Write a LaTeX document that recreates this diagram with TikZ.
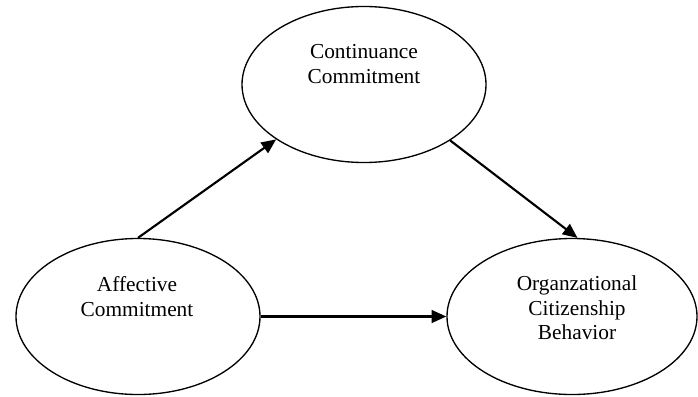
\documentclass[tikz,border=0pt]{standalone}
\usepackage{fontspec}
\setmainfont{Liberation Serif}
\usetikzlibrary{shapes.geometric,arrows.meta}
\begin{document}
\begin{tikzpicture}[x=0.75pt,y=-0.75pt,
  oval/.style={draw=black,line width=1pt,ellipse,inner sep=0pt,minimum width=183pt,minimum height=117pt},
  lbl/.style={align=center,inner sep=0pt,font=\fontsize{16}{18.4}\selectfont},
  conn/.style={draw=black,line width=1.6pt,-{Triangle[length=11pt,width=9.5pt]}}]
\useasboundingbox (0,0) rectangle (698,396);
\node[oval] (cont) at (364,84.5) {};
\node[oval] (aff) at (138,316.5) {};
\node[oval,minimum width=187.5pt] (ocb) at (572,316.5) {};
\node[lbl] (contT) at (364,64) {Continuance\\Commitment};
\node[lbl] (affT) at (137,296.5) {Affective\\Commitment};
\node[lbl] (ocbT) at (577,308) {Organzational\\Citizenship\\Behavior};
\draw[conn] (aff.north) -- (cont.212.8);
\draw[conn] (cont.327.5) -- (ocb.86);
\draw[conn] (aff.east) -- (ocb.west);
\end{tikzpicture}
\end{document}
